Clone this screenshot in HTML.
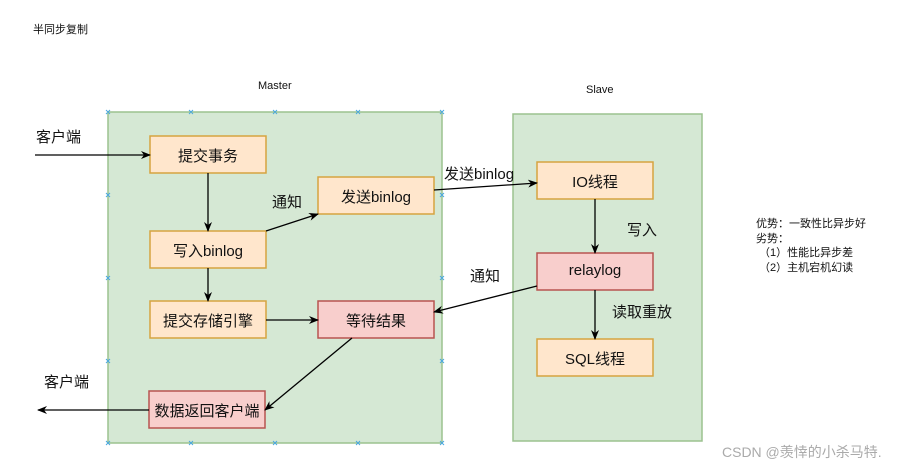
<!DOCTYPE html>
<html><head><meta charset="utf-8"><style>
body{margin:0;width:922px;height:467px;background:#fff;position:relative;overflow:hidden;font-family:"Liberation Sans","Noto Sans CJK SC",sans-serif;}
.t{position:absolute;white-space:nowrap;color:#111;}
</style></head><body>
<svg width="922" height="467" style="position:absolute;left:0;top:0">
<defs><marker id="a" markerWidth="10" markerHeight="10" refX="9" refY="5" orient="auto" markerUnits="userSpaceOnUse"><path d="M0,1 L10,5 L0,9 L3,5 z" fill="#000"/></marker></defs>
<rect x="108" y="112" width="334" height="331" fill="#d5e8d4" stroke="#9bc28f" stroke-width="1.5"/>
<rect x="513" y="114" width="189" height="327" fill="#d5e8d4" stroke="#9bc28f" stroke-width="1.5"/>
<g fill="#ffe6cc" stroke="#d6a440" stroke-width="1.5">
<rect x="150" y="136" width="116" height="37"/>
<rect x="318" y="177" width="116" height="37"/>
<rect x="150" y="231" width="116" height="37"/>
<rect x="150" y="301" width="116" height="37"/>
<rect x="537" y="162" width="116" height="37"/>
<rect x="537" y="339" width="116" height="37"/>
</g>
<g fill="#f8cecc" stroke="#b85450" stroke-width="1.5">
<rect x="318" y="301" width="116" height="37"/>
<rect x="149" y="391" width="116" height="37"/>
<rect x="537" y="253" width="116" height="37"/>
</g>
<g stroke="#000" stroke-width="1.3" fill="none" marker-end="url(#a)">
<line x1="35" y1="155" x2="150" y2="155"/>
<line x1="208" y1="173" x2="208" y2="231"/>
<line x1="266" y1="231" x2="318" y2="214"/>
<line x1="208" y1="268" x2="208" y2="301"/>
<line x1="266" y1="320" x2="318" y2="320"/>
<line x1="434" y1="190" x2="537" y2="183"/>
<line x1="595" y1="199" x2="595" y2="253"/>
<line x1="595" y1="290" x2="595" y2="339"/>
<line x1="537" y1="286" x2="434" y2="312"/>
<line x1="352" y1="338" x2="265" y2="410"/>
<line x1="149" y1="410" x2="38" y2="410"/>
</g>
<g stroke="#4aa8e0" stroke-width="1">
<path d="M106,110l4,4m0,-4l-4,4M189,110l4,4m0,-4l-4,4M273,110l4,4m0,-4l-4,4M356,110l4,4m0,-4l-4,4M440,110l4,4m0,-4l-4,4M106,193l4,4m0,-4l-4,4M440,193l4,4m0,-4l-4,4M106,276l4,4m0,-4l-4,4M440,276l4,4m0,-4l-4,4M106,359l4,4m0,-4l-4,4M440,359l4,4m0,-4l-4,4M106,441l4,4m0,-4l-4,4M189,441l4,4m0,-4l-4,4M273,441l4,4m0,-4l-4,4M356,441l4,4m0,-4l-4,4M440,441l4,4m0,-4l-4,4"/>
</g>
</svg>
<div class="t" style="left:33px;top:21px;font-size:11px">半同步复制</div>
<div class="t" style="left:258px;top:80px;font-size:11px">Master</div>
<div class="t" style="left:586px;top:84px;font-size:11px">Slave</div>
<div class="t" style="left:36px;top:126px;font-size:15px">客户端</div>
<div class="t" style="left:272px;top:191px;font-size:15px">通知</div>
<div class="t" style="left:444px;top:163px;font-size:15px">发送binlog</div>
<div class="t" style="left:627px;top:219px;font-size:15px">写入</div>
<div class="t" style="left:470px;top:265px;font-size:15px">通知</div>
<div class="t" style="left:612px;top:301px;font-size:15px">读取重放</div>
<div class="t" style="left:44px;top:371px;font-size:15px">客户端</div>
<div class="t" style="left:150px;top:145px;width:116px;text-align:center;font-size:15px">提交事务</div>
<div class="t" style="left:318px;top:186px;width:116px;text-align:center;font-size:15px">发送binlog</div>
<div class="t" style="left:150px;top:240px;width:116px;text-align:center;font-size:15px">写入binlog</div>
<div class="t" style="left:150px;top:310px;width:116px;text-align:center;font-size:15px">提交存储引擎</div>
<div class="t" style="left:318px;top:310px;width:116px;text-align:center;font-size:15px">等待结果</div>
<div class="t" style="left:149px;top:400px;width:116px;text-align:center;font-size:15px">数据返回客户端</div>
<div class="t" style="left:537px;top:171px;width:116px;text-align:center;font-size:15px">IO线程</div>
<div class="t" style="left:537px;top:262px;width:116px;text-align:center;font-size:15px">relaylog</div>
<div class="t" style="left:537px;top:348px;width:116px;text-align:center;font-size:15px">SQL线程</div>
<div class="t" style="left:756px;top:217px;font-size:11px;line-height:14.5px">优势：一致性比异步好<br>劣势：<br>&nbsp;（1）性能比异步差<br>&nbsp;（2）主机宕机幻读</div>
<div class="t" style="left:722px;top:442px;font-size:14px;color:#aaa">CSDN @羡悻的小杀马特.</div>
</body></html>
